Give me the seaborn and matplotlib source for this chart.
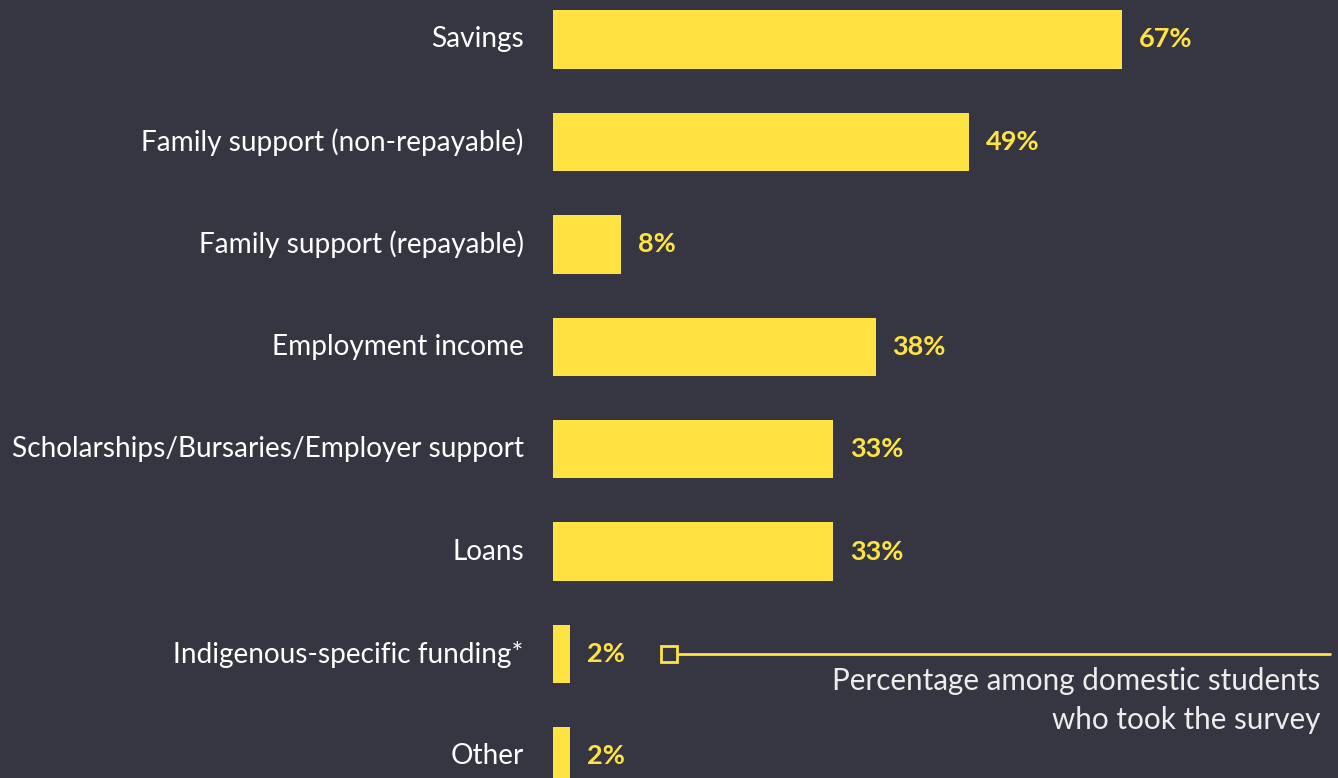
"""
funding sources of domestic students - horizontal bar chart
"""
import matplotlib
matplotlib.use('Agg')
import matplotlib.pyplot as plt
import seaborn as sns
import pandas as pd

sources = ['Savings', 'Family support (non-repayable)', 'Family support (repayable)',
           'Employment income', 'Scholarships/Bursaries/Employer support', 'Loans',
           'Indigenous-specific funding*', 'Other']
percents = [67, 49, 8, 38, 33, 33, 2, 2]
note_lines = ['Percentage among domestic students', 'who took the survey']

BG = '#353641'
YELLOW = '#FFE342'

sns.set_theme(style='white')
plt.rcParams['font.family'] = ['Lato', 'DejaVu Sans']

df = pd.DataFrame({'source': sources, 'percent': percents})

fig = plt.figure(figsize=(13.38, 7.78), dpi=100, facecolor=BG)
ax = fig.add_axes([0.4133, 0.0, 0.5867, 1.0])
ax.set_facecolor(BG)

sns.barplot(data=df, x='percent', y='source', orient='h', color=YELLOW,
            saturation=1, width=0.57, linewidth=0, ax=ax)

ax.set_xlim(0, 92.4)
ax.set_ylim(7.21, -0.385)
for s in ax.spines.values():
    s.set_visible(False)
ax.set_xticks([])
ax.set_xlabel('')
ax.set_ylabel('')
ax.tick_params(axis='y', length=0, pad=21, labelsize=20.2, labelcolor='white')
for lbl in ax.get_yticklabels():
    lbl.set_va('center')

for i, v in enumerate(percents):
    ax.annotate(f'{v}%', (v, i), xytext=(12, 0), textcoords='offset points',
                va='center', ha='left', color=YELLOW, fontsize=19.5, fontweight='bold')

# callout marker + line
ax.plot([13.7], [6], marker='s', markersize=11, markerfacecolor=BG,
        markeredgecolor=YELLOW, markeredgewidth=2, clip_on=False, zorder=5)
ax.plot([14.5, 91.5], [6, 6], color=YELLOW, lw=2, clip_on=False, zorder=4)
ax.text(90.3, 6.13, '\n'.join(note_lines), ha='right', va='top', color='#EDEDED',
        fontsize=21.3, fontweight='normal', linespacing=1.47)

fig.savefig('out.png', dpi=100, facecolor=BG)
